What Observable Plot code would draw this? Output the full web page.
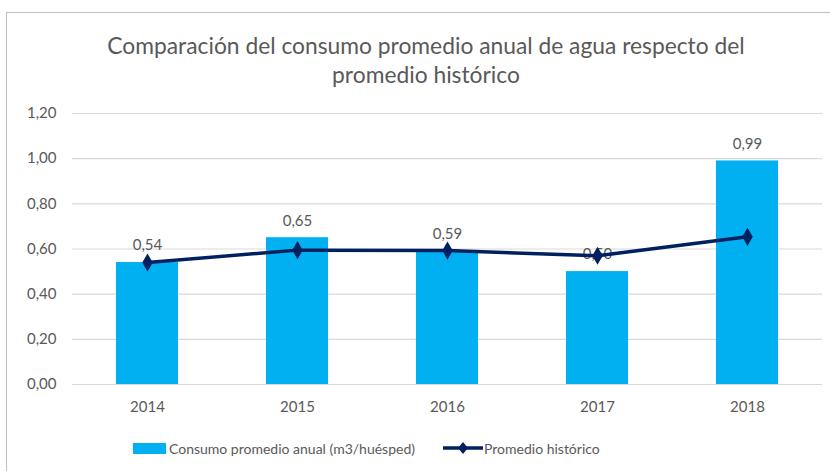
<!DOCTYPE html>
<html>
<head>
<meta charset="utf-8">
<script src="https://cdn.jsdelivr.net/npm/d3@7"></script>
<script src="https://cdn.jsdelivr.net/npm/@observablehq/plot@0.6"></script>
<style>
  html, body { margin: 0; padding: 0; background: #fff; width: 830px; height: 471px; overflow: hidden; }
  body { font-family: Lato, "Noto Sans", sans-serif; color: #595959; position: relative; }
  #frame { position: absolute; left: 6px; top: 12px; width: 900px; height: 600px; border: 1.5px solid #bfbfbf; box-sizing: border-box; }
  #title { position: absolute; left: 11px; width: 830px; top: 31px; text-align: center; font-size: 22.8px; line-height: 29px; color: #595959; }
  #chart { position: absolute; left: 0; top: 95px; }
  #legend { position: absolute; top: 438px; left: 0; width: 830px; font-size: 14px; color: #595959; }
  .item { position: absolute; top: 0; display: flex; align-items: center; height: 20px; white-space: nowrap; }
</style>
</head>
<body>
<div id="frame"></div>
<div id="title">Comparación del consumo promedio anual de agua respecto del<br>promedio histórico</div>
<div id="chart"></div>
<div id="legend"></div>
<script>
const years = ["2014", "2015", "2016", "2017", "2018"];
const consumo = [0.54, 0.65, 0.59, 0.50, 0.99];
const historico = [0.54, 0.595, 0.593, 0.57, 0.654];
const yTicks = [0, 0.2, 0.4, 0.6, 0.8, 1.0, 1.2];
const seriesNames = ["Consumo promedio anual (m3/huésped)", "Promedio histórico"];

const barColor = "#00B0F0";
const lineColor = "#002060";
const fmt = d => d.toFixed(2).replace(".", ",");

const data = years.map((y, i) => ({year: y, consumo: consumo[i], historico: historico[i]}));

const chart = Plot.plot({
  width: 830,
  height: 330,
  marginLeft: 72,
  marginRight: 8,
  marginTop: 18,
  marginBottom: 41,
  style: {fontFamily: "Lato, 'Noto Sans', sans-serif", fontSize: "15px", color: "#595959", background: "transparent"},
  x: {domain: years, paddingInner: 0.587, paddingOuter: 0.2935, label: null},
  y: {domain: [0, 1.2], label: null},
  marks: [
    Plot.ruleY(yTicks, {stroke: "#d9d9d9", strokeWidth: 1.2}),
    Plot.axisY({ticks: yTicks, tickFormat: fmt, tickSize: 0, tickPadding: 16, label: null, fill: "#595959"}),
    Plot.axisX({tickSize: 0, tickPadding: 17, label: null, fill: "#595959"}),
    Plot.barY(data, {x: "year", y: "consumo", fill: barColor}),
    Plot.text(data, {x: "year", y: "consumo", text: d => fmt(d.consumo), dy: -17, fill: "#595959", fontSize: 15}),
    Plot.line(data, {x: "year", y: "historico", stroke: lineColor, strokeWidth: 3.5}),
    Plot.dot(data, {x: "year", y: "historico", symbol: "diamond", r: 5.5, fill: lineColor, stroke: "none"})
  ]
});
document.getElementById("chart").appendChild(chart);

// legend
const legend = document.getElementById("legend");
const it1 = document.createElement("div");
it1.className = "item";
it1.style.left = "133px";
it1.innerHTML = `<span style="display:inline-block;width:33px;height:11px;background:${barColor};margin-right:3px"></span>${seriesNames[0]}`;
legend.appendChild(it1);
const it2 = document.createElement("div");
it2.className = "item";
it2.style.left = "443px";
it2.innerHTML = `<svg width="40" height="14" style="margin-right:1px"><line x1="0" y1="7" x2="40" y2="7" stroke="${lineColor}" stroke-width="3.5"/><path d="M20,1 L25,7 L20,13 L15,7 Z" fill="${lineColor}"/></svg>${seriesNames[1]}`;
legend.appendChild(it2);
</script>
</body>
</html>
